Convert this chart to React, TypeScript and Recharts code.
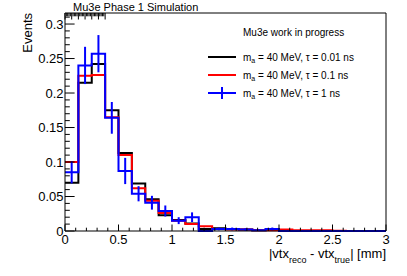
import React from "react";
import { ComposedChart, Line, Scatter, ErrorBar, XAxis, YAxis } from "recharts";

// bin edges of the |vtx_reco - vtx_true| histogram [mm]
const binEdges = [
  0, 0.125, 0.25, 0.375, 0.5, 0.625, 0.75, 0.875, 1, 1.125, 1.25, 1.375, 1.5,
  1.625, 1.75, 1.875, 2, 2.125, 2.25, 2.375, 2.5, 2.625, 2.75, 2.875, 3,
];

// normalised counts per bin
const tau001 = [
  0.07, 0.215, 0.242, 0.175, 0.113, 0.069, 0.046, 0.023, 0.016, 0.011, 0.003,
  0.004, 0.003, 0.002, 0.001, 0.002, 0, 0, 0, 0, 0, 0, 0, 0,
];
const tau01 = [
  0.1, 0.225, 0.226, 0.165, 0.11, 0.062, 0.044, 0.026, 0.015, 0.01, 0.007,
  0.003, 0.002, 0.002, 0.001, 0.001, 0.002, 0.001, 0.001, 0.001, 0.0005, 0, 0, 0,
];
const tau1 = [
  0.085, 0.24, 0.257, 0.164, 0.087, 0.054, 0.041, 0.029, 0.015, 0.02, 0, 0.003,
  0.003, 0.002, 0.001, 0.003, 0, 0, 0, 0, 0, 0, 0, 0,
];
const tau1Err = [
  0.016, 0.027, 0.027, 0.023, 0.019, 0.011, 0.01, 0.008, 0.005, 0.007, 0,
  0.002, 0.002, 0.002, 0.001, 0.002, 0, 0, 0, 0, 0, 0, 0, 0,
];

const xMajorTicks = [0, 0.5, 1, 1.5, 2, 2.5, 3];
const xTickLabels = ["0", "0.5", "1", "1.5", "2", "2.5", "3"];
const xTicks = [
  0, 0.1, 0.2, 0.3, 0.4, 0.5, 0.6, 0.7, 0.8, 0.9, 1, 1.1, 1.2, 1.3, 1.4, 1.5,
  1.6, 1.7, 1.8, 1.9, 2, 2.1, 2.2, 2.3, 2.4, 2.5, 2.6, 2.7, 2.8, 2.9, 3,
];
const yMajorTicks = [0, 0.05, 0.1, 0.15, 0.2, 0.25, 0.3];
const yTickLabels = ["0", "0.05", "0.1", "0.15", "0.2", "0.25", "0.3"];
const yTicks = [
  0, 0.01, 0.02, 0.03, 0.04, 0.05, 0.06, 0.07, 0.08, 0.09, 0.1, 0.11, 0.12,
  0.13, 0.14, 0.15, 0.16, 0.17, 0.18, 0.19, 0.2, 0.21, 0.22, 0.23, 0.24, 0.25,
  0.26, 0.27, 0.28, 0.29, 0.3, 0.31,
];

const legendItems = [
  { tau: "0.01", color: "#000000", cross: false },
  { tau: "0.1", color: "#ff0000", cross: false },
  { tau: "1", color: "#0000ff", cross: true },
];

const FONT = "'Liberation Sans', Arial, Helvetica, sans-serif";

const last = tau001.length - 1;
const stepRows = binEdges.map((x, i) => ({
  x,
  black: tau001[Math.min(i, last)],
  red: tau01[Math.min(i, last)],
  blue: tau1[Math.min(i, last)],
}));

const errRows = tau1
  .map((y, i) => ({ x: (binEdges[i] + binEdges[i + 1]) / 2, y, err: tau1Err[i] }))
  .filter((r) => r.y > 0);

const majorIndex = (v: number, list: number[]) =>
  list.findIndex((m) => Math.abs(m - v) < 1e-6);

function BottomTick(props: any) {
  const { x, y, payload } = props;
  const i = majorIndex(payload.value, xMajorTicks);
  return (
    <g>
      <line x1={x} x2={x} y1={y} y2={y - (i >= 0 ? 6.5 : 3.3)} stroke="#000" />
      {i >= 0 && (
        <text x={x} y={y + 13} textAnchor="middle" fontSize={13} fontFamily={FONT} fill="#000">
          {xTickLabels[i]}
        </text>
      )}
    </g>
  );
}

function TopTick(props: any) {
  const { x, y, payload } = props;
  const i = majorIndex(payload.value, xMajorTicks);
  return <line x1={x} x2={x} y1={y} y2={y + (i >= 0 ? 6.5 : 3.3)} stroke="#000" />;
}

function LeftTick(props: any) {
  const { x, y, payload } = props;
  const i = majorIndex(payload.value, yMajorTicks);
  return (
    <g>
      <line x1={x} x2={x + (i >= 0 ? 9.6 : 4.8)} y1={y} y2={y} stroke="#000" />
      {i >= 0 && (
        <text x={x - 1.5} y={y + 4.6} textAnchor="end" fontSize={13} fontFamily={FONT} fill="#000">
          {yTickLabels[i]}
        </text>
      )}
    </g>
  );
}

function RightTick(props: any) {
  const { x, y, payload } = props;
  const i = majorIndex(payload.value, yMajorTicks);
  return <line x1={x} x2={x - (i >= 0 ? 9.6 : 4.8)} y1={y} y2={y} stroke="#000" />;
}

export default function App() {
  return (
    <div style={{ position: "absolute", left: 0, top: 0, width: 407, height: 276, background: "#fff" }}>
      <ComposedChart
        width={407}
        height={276}
        data={stepRows}
        margin={{ top: 0, right: 0, bottom: 0, left: 0 }}
      >
        <XAxis
          dataKey="x"
          type="number"
          domain={[0, 3]}
          ticks={xTicks}
          interval={0}
          height={45}
          tickSize={0}
          tickMargin={0}
          tick={<BottomTick />}
          axisLine={{ stroke: "#000" }}
        />
        <XAxis
          xAxisId="top"
          orientation="top"
          type="number"
          domain={[0, 3]}
          ticks={xTicks}
          interval={0}
          height={13}
          tickSize={0}
          tickMargin={0}
          tick={<TopTick />}
          axisLine={{ stroke: "#000" }}
        />
        <YAxis
          type="number"
          domain={[0, 0.316]}
          ticks={yTicks}
          interval={0}
          width={65}
          tickSize={0}
          tickMargin={0}
          tick={<LeftTick />}
          axisLine={{ stroke: "#000" }}
        />
        <YAxis
          yAxisId="right"
          orientation="right"
          type="number"
          domain={[0, 0.316]}
          ticks={yTicks}
          interval={0}
          width={21}
          tickSize={0}
          tickMargin={0}
          tick={<RightTick />}
          axisLine={{ stroke: "#000" }}
        />
        <Line type="stepAfter" dataKey="black" stroke="#000000" strokeWidth={2} dot={false} activeDot={false} isAnimationActive={false} />
        <Line type="stepAfter" dataKey="red" stroke="#ff0000" strokeWidth={2} dot={false} activeDot={false} isAnimationActive={false} />
        <Line type="stepAfter" dataKey="blue" stroke="#0000ff" strokeWidth={2} dot={false} activeDot={false} isAnimationActive={false} />
        <Scatter data={errRows} dataKey="y" shape={() => <g />} isAnimationActive={false}>
          <ErrorBar dataKey="err" direction="y" width={0} stroke="#0000ff" strokeWidth={2} isAnimationActive={false} />
        </Scatter>
      </ComposedChart>

      <svg
        width={407}
        height={276}
        style={{ position: "absolute", left: 0, top: 0, pointerEvents: "none" }}
        fontFamily={FONT}
      >
        <text x={73} y={10.5} fontSize={11} fill="#000">
          Mu3e Phase 1 Simulation
        </text>
        <text x={32} y={13} fontSize={13} fill="#000" textAnchor="end" transform="rotate(-90 32 13)">
          Events
        </text>
        <text x={386} y={258} fontSize={13} fill="#000" textAnchor="end">
          |vtx
          <tspan fontSize={9} dy={5}>reco</tspan>
          <tspan dy={-5}> - vtx</tspan>
          <tspan fontSize={9} dy={5}>true</tspan>
          <tspan dy={-5}>| [mm]</tspan>
        </text>
        <text x={243} y={35.5} fontSize={10} fill="#000">
          Mu3e work in progress
        </text>
        {legendItems.map((it, k) => {
          const cy = 57 + k * 18;
          return (
            <g key={it.tau}>
              <line x1={208} x2={236} y1={cy} y2={cy} stroke={it.color} strokeWidth={2} />
              {it.cross && <line x1={222} x2={222} y1={cy - 6} y2={cy + 6} stroke={it.color} strokeWidth={2} />}
              <text x={243} y={cy + 3.5} fontSize={10} fill="#000">
                m<tspan fontSize={7} dy={2}>a</tspan>
                <tspan dy={-2}>{` = 40 MeV, \u03c4 = ${it.tau} ns`}</tspan>
              </text>
            </g>
          );
        })}
      </svg>
    </div>
  );
}
